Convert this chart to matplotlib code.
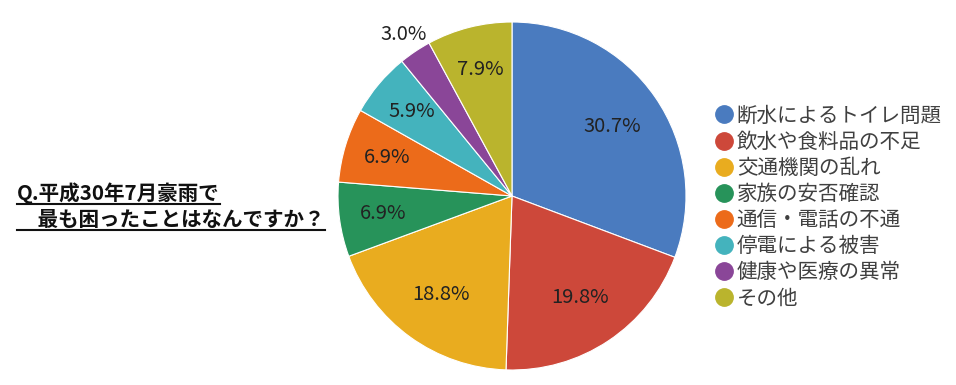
import matplotlib
matplotlib.use("Agg")
import matplotlib.pyplot as plt
from matplotlib.lines import Line2D
import numpy as np

plt.rcParams["font.family"] = ["Noto Sans CJK JP", "DejaVu Sans"]

# データ
labels = ["断水によるトイレ問題", "飲水や食料品の不足", "交通機関の乱れ", "家族の安否確認",
          "通信・電話の不通", "停電による被害", "健康や医療の異常", "その他"]
values = [30.7, 19.8, 18.8, 6.9, 6.9, 5.9, 3.0, 7.9]
colors = ["#4a7bbf", "#cd483a", "#e9ac1f", "#27935a", "#ec6b1a", "#44b3bd", "#8a4698", "#bab42d"]
title_lines = ["Q.平成30年7月豪雨で", "　最も困ったことはなんですか？"]

W, H = 956, 385
fig = plt.figure(figsize=(W / 100, H / 100), dpi=100)

# 円グラフ (中心 512,196 半径 174 px)
cx, cy, r = 512, 196, 174
ax = fig.add_axes([(cx - r) / W, (H - cy - r) / H, 2 * r / W, 2 * r / H])
wedges, _ = ax.pie(values, colors=colors, startangle=90, counterclock=False,
                   wedgeprops=dict(edgecolor="white", linewidth=0.8))
ax.set_xlim(-1, 1)
ax.set_ylim(-1, 1)
ax.set_aspect("equal")

for w, v in zip(wedges, values):
    ang = np.deg2rad((w.theta1 + w.theta2) / 2)
    if v < 4:
        d = 1.12
    elif v > 15:
        d = 0.70
    else:
        d = 0.75
    ax.text(d * np.cos(ang), d * np.sin(ang), f"{v:.1f}%", ha="center", va="center",
            fontsize=14.5, color="#222222", clip_on=False)

# 凡例
handles = [Line2D([], [], marker="o", linestyle="", markersize=12.5, markerfacecolor=c,
                  markeredgecolor=c) for c in colors]
leg = fig.legend(handles, labels, loc="center left", bbox_to_anchor=(705 / W, (H - 207) / H),
                 frameon=False, fontsize=14.8, labelspacing=0.2, handlelength=0.8,
                 handletextpad=0.25, borderpad=0)
for t in leg.get_texts():
    t.set_color("#404040")

# 左側の質問文 (下線付き)
ys = [193, 219]
texts = []
for line, y in zip(title_lines, ys):
    t = fig.text(17 / W, (H - y) / H, line, fontsize=14.8, fontweight="bold",
                 ha="left", va="center", color="#111111")
    texts.append(t)

fig.canvas.draw()
renderer = fig.canvas.get_renderer()
for t, y in zip(texts, ys):
    bb = t.get_window_extent(renderer)
    uy = (H - y - 11) / H
    fig.add_artist(Line2D([bb.x0 / W, bb.x1 / W], [uy, uy], color="#111111", linewidth=1.5))

fig.savefig("out.png", dpi=100)
